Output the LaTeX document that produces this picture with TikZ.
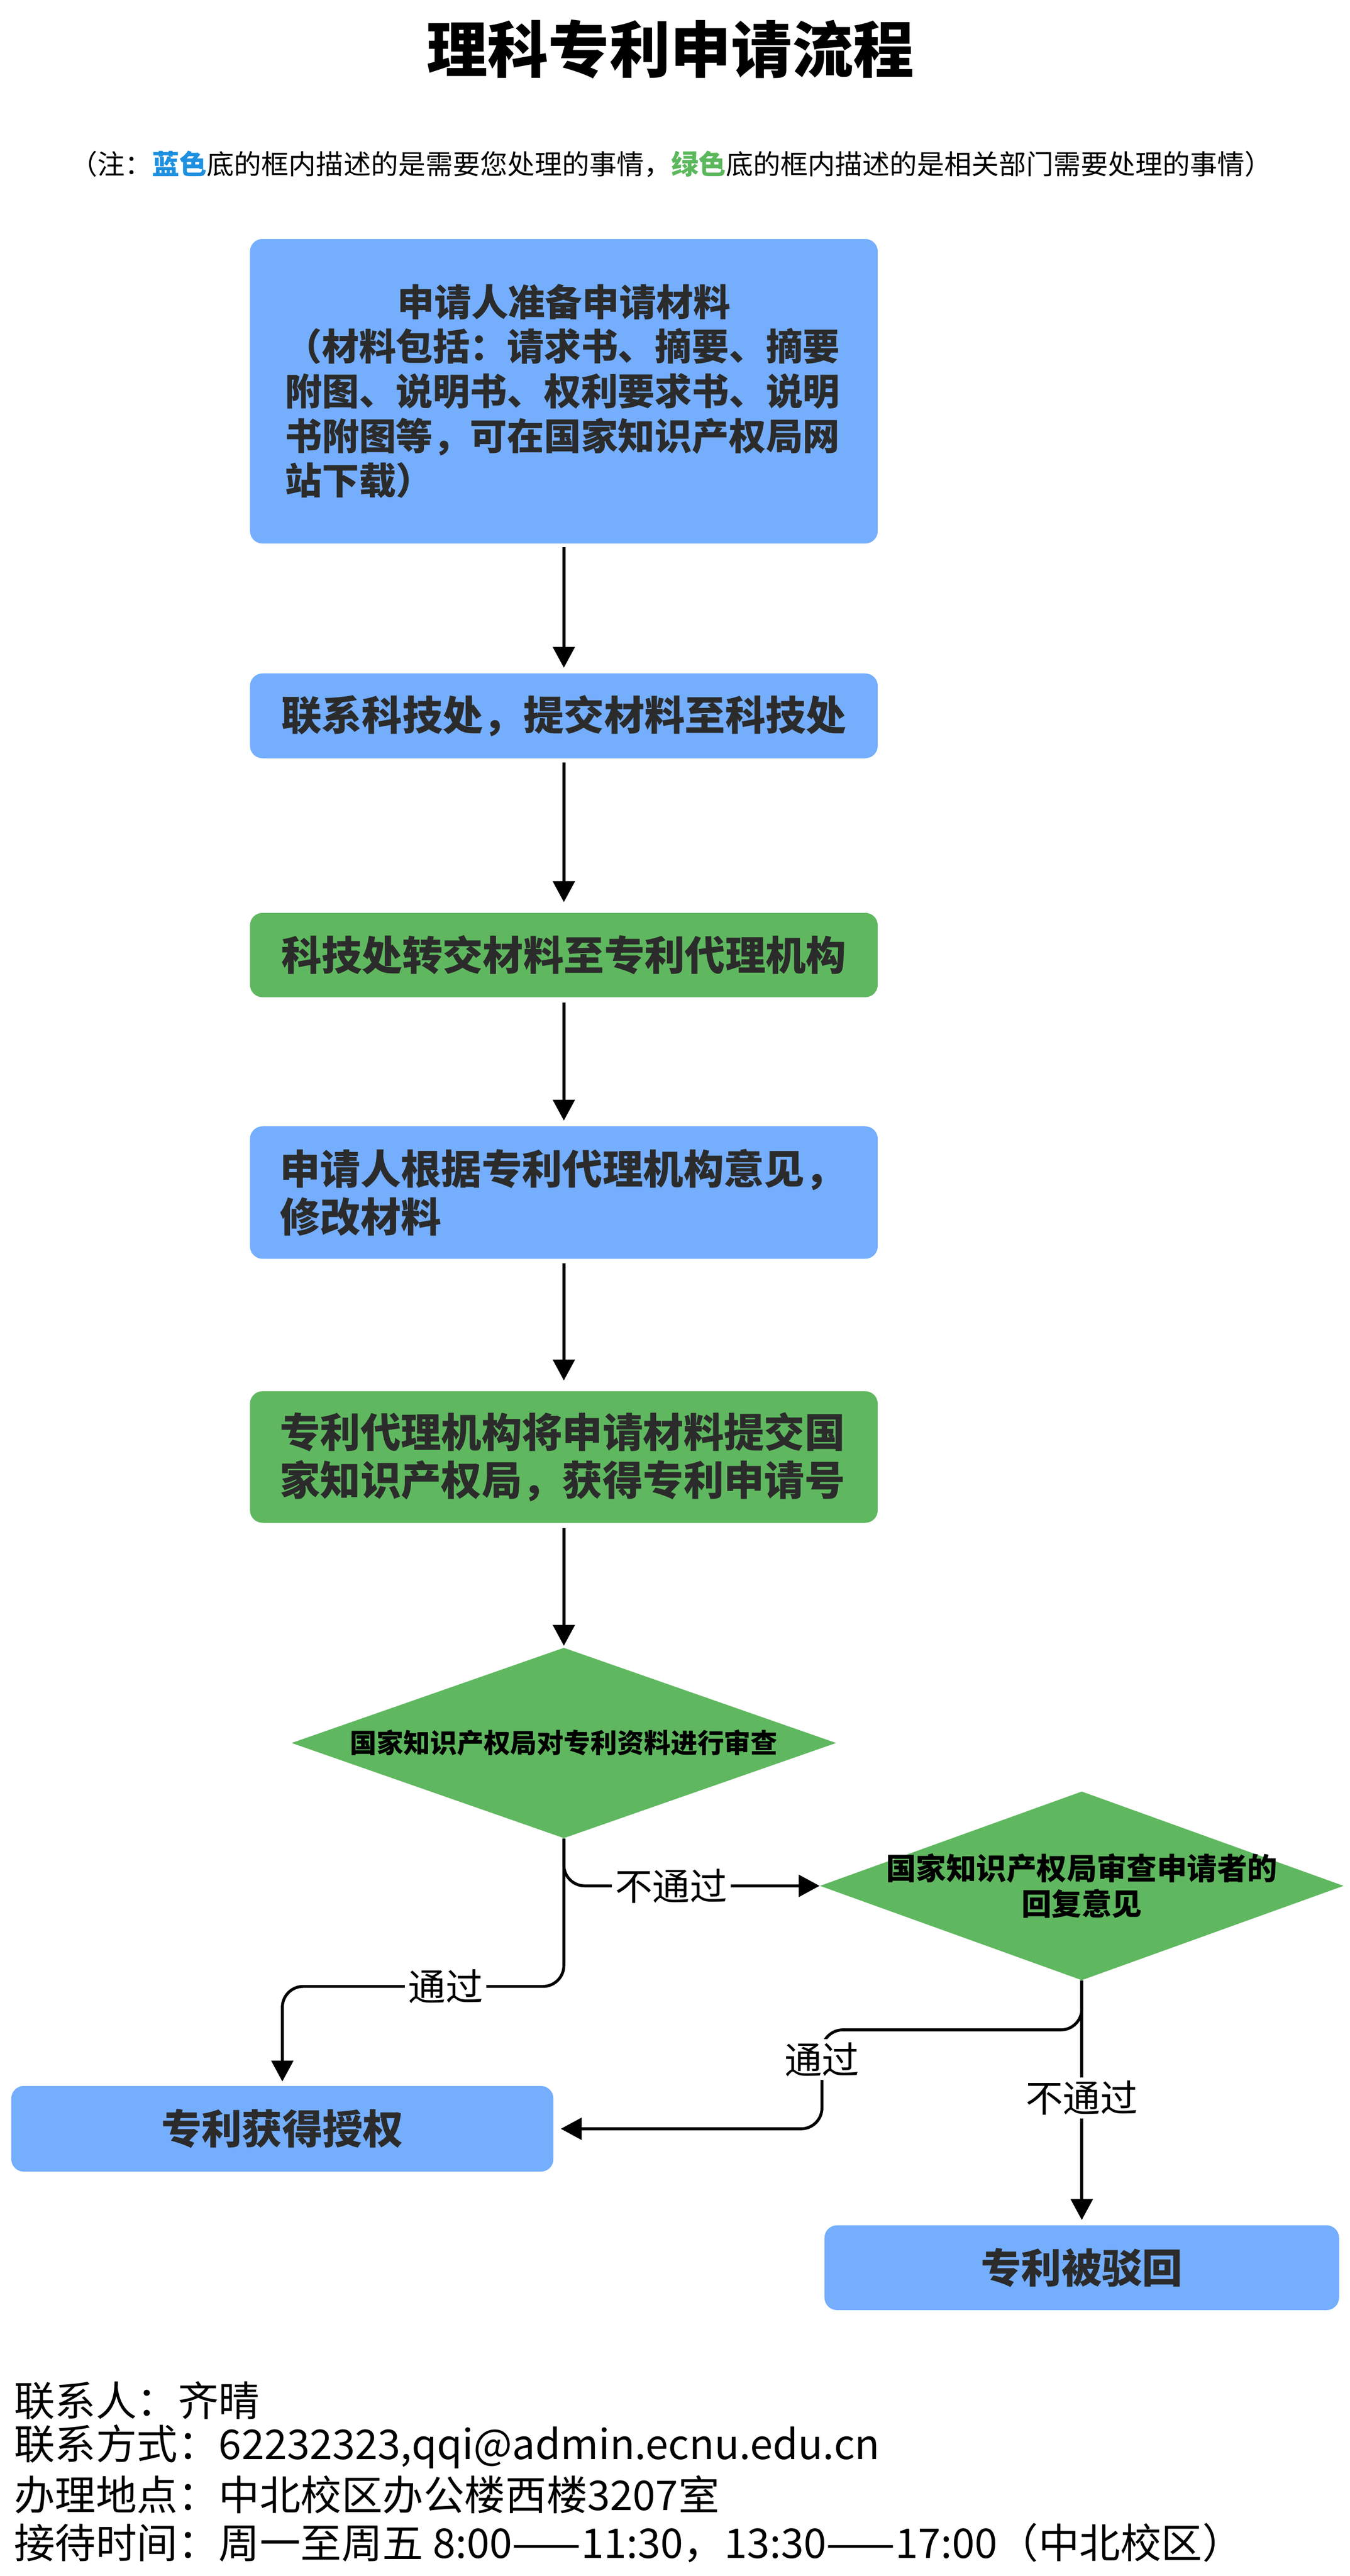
\documentclass[tikz,border=0pt]{standalone}
\usepackage{fontspec}
\setmainfont{Noto Sans CJK SC}
\usetikzlibrary{shapes.geometric,arrows.meta}

\definecolor{boxblue}{RGB}{116,174,252}
\definecolor{boxgreen}{RGB}{95,184,95}
\definecolor{noteblue}{RGB}{30,144,224}
\definecolor{notegreen}{RGB}{92,184,92}
\definecolor{boxtext}{RGB}{43,43,43}

\tikzset{
  stepbox/.style={rounded corners=0.3cm, minimum width=15.03cm, inner sep=0pt,
    text=boxtext, font=\fontsize{27.5}{32.5}\selectfont\bfseries},
  bluebox/.style={stepbox, fill=boxblue},
  greenbox/.style={stepbox, fill=boxgreen},
  reviewbox/.style={diamond, fill=boxgreen, inner sep=0pt},
  reviewtext/.style={text=black, align=center, font=\fontsize{18.2}{22}\selectfont\bfseries},
  flow/.style={line width=0.07cm, -{Triangle[length=0.5cm,width=0.52cm]}, rounded corners=0.5cm},
  choice/.style={fill=white, inner sep=0.08cm, font=\fontsize{25.5}{25.5}\selectfont},
  infotext/.style={anchor=west, inner sep=0pt, font=\fontsize{27.9}{32}\selectfont}
}

\begin{document}
\begin{tikzpicture}
    \useasboundingbox (0,0) rectangle (32.31,-61.66);
    % Title and note
    \node[font=\fontsize{41.5}{41.5}\selectfont\bfseries] (title) at (16.05,-1.18) {理科专利申请流程};
    \node[font=\fontsize{18.6}{18.6}\selectfont] (note) at (16.07,-3.93)
      {（注：{\bfseries\color{noteblue}蓝色}底的框内描述的是需要您处理的事情，{\bfseries\color{notegreen}绿色}底的框内描述的是相关部门需要处理的事情）};
    % Main column of steps
    \node[bluebox, minimum height=7.29cm, text width=13.35cm, align=left,
      font=\fontsize{25.2}{30.4}\selectfont\bfseries] (prepare) at (13.5,-9.365)
      {\hfill 申请人准备申请材料\hfill\null\\（材料包括：请求书、摘要、摘要\\附图、说明书、权利要求书、说明\\书附图等，可在国家知识产权局网\\站下载）};
    \node[bluebox, minimum height=2.03cm] (contact) at (13.5,-17.135) {联系科技处，提交材料至科技处};
    \node[greenbox, minimum height=2.02cm] (transfer) at (13.5,-22.86) {科技处转交材料至专利代理机构};
    \node[bluebox, minimum height=3.17cm, text width=13.6cm, align=left] (revise) at (13.5,-28.545)
      {申请人根据专利代理机构意见，\\修改材料};
    \node[greenbox, minimum height=3.15cm, text width=13.6cm, align=left] (submit) at (13.5,-34.875)
      {专利代理机构将申请材料提交国\\家知识产权局，获得专利申请号};
    % Decisions
    \node[reviewbox, minimum width=13.04cm, minimum height=4.56cm,
      label={[reviewtext]center:{国家知识产权局对专利资料进行审查}}] (review) at (13.5,-41.72) {};
    \node[reviewbox, minimum width=12.54cm, minimum height=4.52cm,
      label={[reviewtext, font=\fontsize{20.5}{24.5}\selectfont\bfseries]center:{国家知识产权局审查申请者的\\回复意见}}] (reply) at (25.9,-45.14) {};
    % Results
    \node[bluebox, minimum width=12.98cm, minimum height=2.05cm] (grant) at (6.76,-50.955) {专利获得授权};
    \node[bluebox, minimum width=12.32cm, minimum height=2.03cm] (reject) at (25.9,-54.28) {专利被驳回};
    % Connectors
    \draw[flow, shorten <=0.08cm, shorten >=0.13cm] (prepare) -- (contact);
    \draw[flow, shorten <=0.1cm, shorten >=0.25cm] (contact) -- (transfer);
    \draw[flow, shorten <=0.12cm, shorten >=0.13cm] (transfer) -- (revise);
    \draw[flow, shorten <=0.1cm, shorten >=0.25cm] (revise) -- (submit);
    \draw[flow, shorten <=0.12cm, shorten >=0.04cm] (submit) -- (review);
    \draw[flow] (review.south) |- node[choice, pos=0.71] {不通过} (reply.west);
    \draw[flow, shorten >=0.1cm] (review.south) -- ++(0,-3.54) -| node[choice, pos=0.21] {通过} (grant.north);
    \draw[flow, shorten >=0.17cm] (reply.south) |- ++(-6.22,-1.18) |- node[choice, pos=0.15] {通过} (grant.east);
    \draw[flow, shorten >=0.12cm] (reply.south) -- node[choice, pos=0.48] {不通过} (reject.north);
    % Contact details
    \node[infotext] (person) at (0.33,-57.46) {联系人：齐晴};
    \node[infotext] (phone) at (0.33,-58.56) {联系方式：62232323,qqi@admin.ecnu.edu.cn};
    \node[infotext] (place) at (0.33,-59.71) {办理地点：中北校区办公楼西楼3207室};
    \node[infotext] (hours) at (0.33,-60.87) {接待时间：周一至周五 8:00——11:30，13:30——17:00（中北校区）};
\end{tikzpicture}
\end{document}
